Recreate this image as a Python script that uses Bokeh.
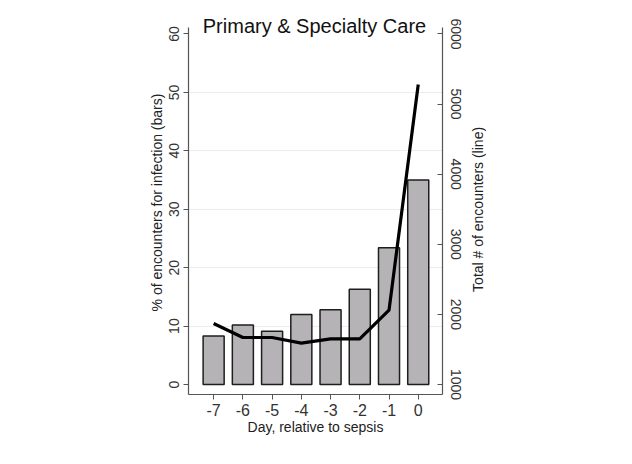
import math
from bokeh.plotting import figure
from bokeh.models import Range1d, LinearAxis, FixedTicker, Label
from bokeh.layouts import row
from bokeh.core.properties import value
from bokeh.embed import file_html
from bokeh.resources import INLINE

days = [-7, -6, -5, -4, -3, -2, -1, 0]
day_labels = ["-7", "-6", "-5", "-4", "-3", "-2", "-1", "0"]
pct_infection = [8.3, 10.2, 9.1, 12.0, 12.8, 16.3, 23.4, 35.0]
total_encounters = [1870, 1670, 1670, 1590, 1650, 1650, 2060, 5280]
left_ticks = [0, 10, 20, 30, 40, 50, 60]
right_ticks = [1000, 2000, 3000, 4000, 5000, 6000]
grid_ticks = [10, 20, 30, 40, 50]
right_label = "Total # of encounters (line)"

FONT = "Liberation Sans"

p = figure(width=468, height=460, output_backend="svg", toolbar_location=None,
           x_range=Range1d(-7.86, 0.83), y_range=Range1d(-1.71, 64.02),
           min_border_left=188, min_border_right=26, min_border_top=10, min_border_bottom=66)
p.outline_line_color = None
p.background_fill_color = "white"
p.border_fill_color = "white"
p.extra_y_ranges = {"n": Range1d(857, 6335)}

p.vbar(x=days, top=pct_infection, bottom=0, width=0.72, fill_color="#b5b3b5",
       line_color="#1e1e1e", line_width=1.5)
p.line(x=days, y=total_encounters, y_range_name="n", line_color="black", line_width=3.2)

p.xgrid.visible = False
p.ygrid.ticker = FixedTicker(ticks=grid_ticks)
p.ygrid.grid_line_color = "#ececec"
p.ygrid.grid_line_width = 1

# x axis
xa = p.xaxis[0]
xa.ticker = FixedTicker(ticks=days)
xa.major_label_overrides = {d: l for d, l in zip(days, day_labels)}
xa.axis_label = "Day, relative to sepsis"

# left axis
ya = p.yaxis[0]
ya.ticker = FixedTicker(ticks=left_ticks)
ya.axis_label = "% of encounters for infection (bars)"
ya.major_label_orientation = "vertical"
ya.bounds = (-1.71, 61.1)

# right axis (its title is drawn in the side figure below)
ra = LinearAxis(y_range_name="n", ticker=FixedTicker(ticks=right_ticks))
ra.major_label_orientation = "vertical"
ra.bounds = (857, 6093)
p.add_layout(ra, "right")

for ax in [xa, ya, ra]:
    ax.axis_line_color = "#555555"
    ax.axis_line_width = 1.2
    ax.major_tick_line_color = "#555555"
    ax.major_tick_out = 5
    ax.major_tick_in = 0
    ax.minor_tick_line_color = None
    ax.major_label_text_font = FONT
    ax.major_label_text_color = "#333333"
    ax.axis_label_text_font = FONT
    ax.axis_label_text_font_style = "normal"
    ax.axis_label_text_font_size = "14px"
    ax.axis_label_text_color = "#222222"

ra.major_tick_out = 0
ra.major_tick_in = 5

xa.major_label_text_font_size = "16px"
xa.major_label_standoff = 4
xa.axis_label_standoff = 0
ya.major_label_text_font_size = "14px"
ya.major_label_standoff = 4
ya.axis_label_standoff = 2
ra.major_label_text_font_size = "14px"
ra.major_label_standoff = 8

title = Label(x=-3.55, y=61.45, text="Primary & Specialty Care", text_font=FONT,
              text_font_size="20px", text_color="#111111", text_align="center",
              text_baseline="middle")
p.add_layout(title)

# narrow side figure holding the right-axis title, reading bottom-to-top
# (same top/bottom borders as the main figure so the row keeps its frame in place)
p2 = figure(width=18, height=460, output_backend="svg", toolbar_location=None,
            x_range=Range1d(0, 1), y_range=Range1d(0, 1),
            min_border_left=0, min_border_right=0, min_border_top=10, min_border_bottom=66)
p2.outline_line_color = None
p2.axis.visible = False
p2.grid.visible = False
p2.background_fill_color = "white"
p2.border_fill_color = "white"
p2.text(x=[0.5], y=[0.482], text=[right_label], angle=math.pi / 2,
        text_align="center", text_baseline="middle", text_font=value(FONT),
        text_font_size=value("14px"), text_color="#222222")

layout = row(p, p2, spacing=0)
open("out.html", "w").write(file_html(layout, INLINE))
